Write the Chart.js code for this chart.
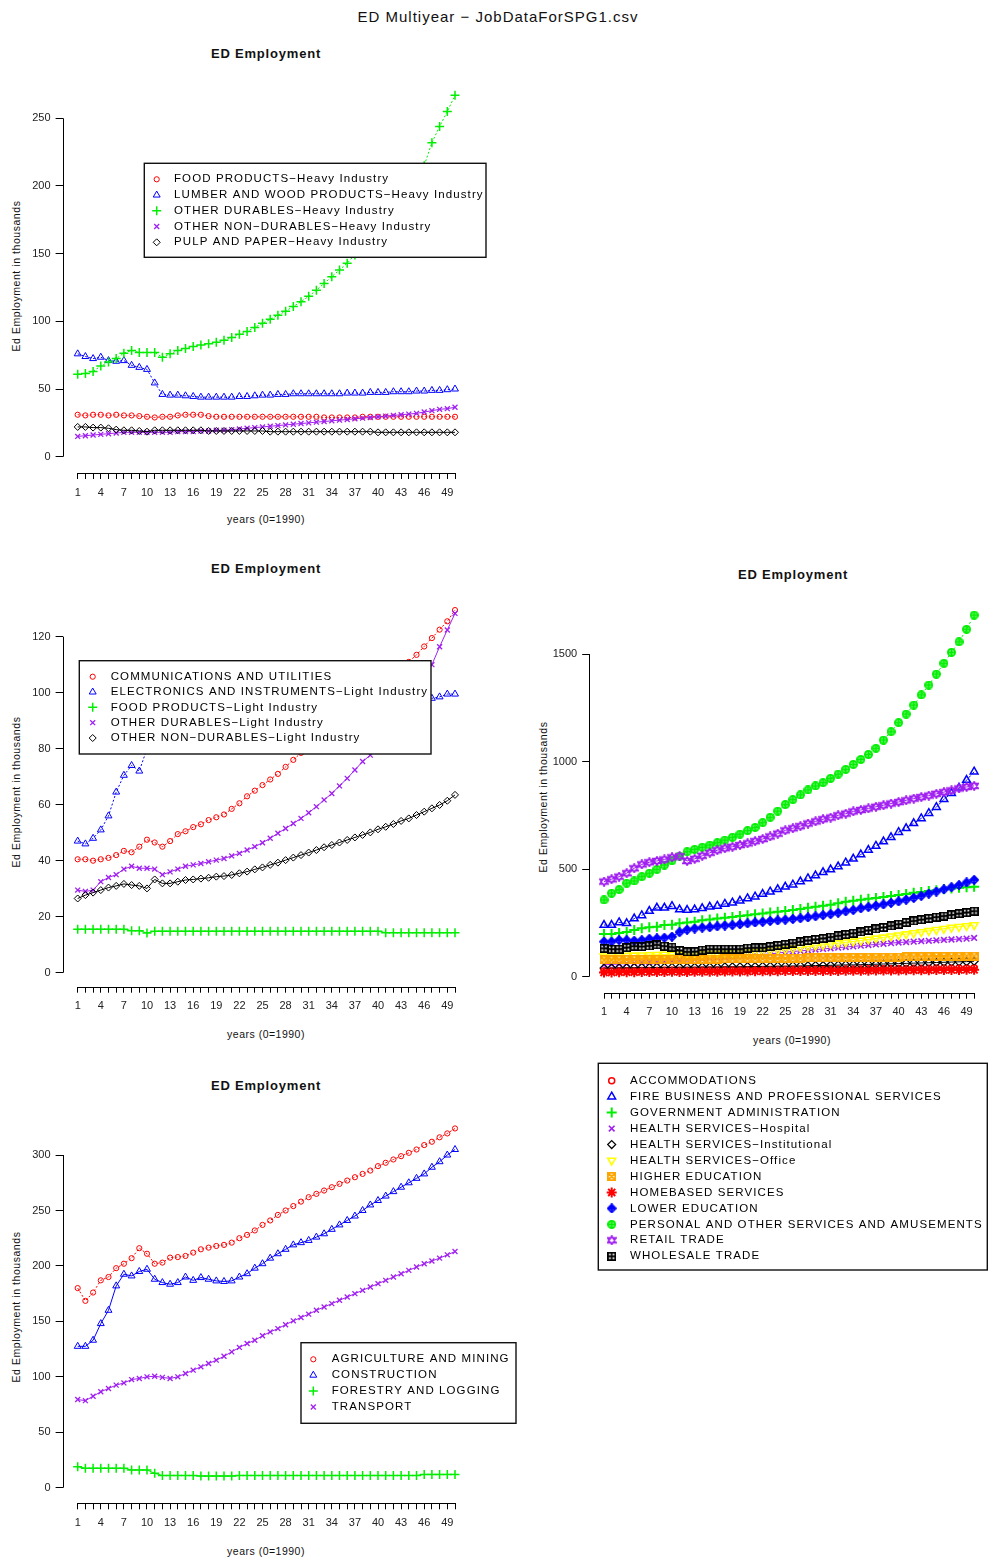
<!DOCTYPE html>
<html>
<head>
<meta charset="utf-8">
<script src="https://cdn.jsdelivr.net/npm/chart.js"></script>
<style>
  body { margin: 0; background: #fff; }
  #page { position: relative; width: 988px; height: 1558px; overflow: hidden; font-family: 'Liberation Sans', Arial, sans-serif; color: #111; }
  canvas { position: absolute; }
  .t { position: absolute; white-space: nowrap; transform: translate(-50%, -50%); line-height: 1; }
  .main { font-size: 15px; letter-spacing: 1px; }
  .ptitle { font-size: 13px; font-weight: bold; letter-spacing: 0.8px; }
  .xt { font-size: 10.5px; letter-spacing: 0.5px; }
  .yt { font-size: 10.5px; letter-spacing: 0.55px; transform: translate(-50%, -50%) rotate(-90deg); }
</style>
</head>
<body>
<div id="page">
  <div class="t main" style="left:498px;top:16px">ED Multiyear − JobDataForSPG1.csv</div>

  <div class="t ptitle" style="left:266px;top:53px">ED Employment</div>
  <div class="t yt" style="left:16px;top:276px">Ed Employment in thousands</div>
  <div class="t xt" style="left:266px;top:519px">years (0=1990)</div>
  <canvas id="c1" width="494" height="505" style="left:0;top:30px"></canvas>

  <div class="t ptitle" style="left:266px;top:568px">ED Employment</div>
  <div class="t yt" style="left:16px;top:792px">Ed Employment in thousands</div>
  <div class="t xt" style="left:266px;top:1034px">years (0=1990)</div>
  <canvas id="c2" width="494" height="505" style="left:0;top:545px"></canvas>

  <div class="t ptitle" style="left:793px;top:574px">ED Employment</div>
  <div class="t yt" style="left:543px;top:797px">Ed Employment in thousands</div>
  <div class="t xt" style="left:792px;top:1040px">years (0=1990)</div>
  <canvas id="c3" width="468" height="730" style="left:520px;top:555px"></canvas>

  <div class="t ptitle" style="left:266px;top:1085px">ED Employment</div>
  <div class="t yt" style="left:16px;top:1307px">Ed Employment in thousands</div>
  <div class="t xt" style="left:266px;top:1551px">years (0=1990)</div>
  <canvas id="c4" width="530" height="496" style="left:0;top:1062px"></canvas>
</div>

<script>
// x categories and tick labels
const years = [1,2,3,4,5,6,7,8,9,10,11,12,13,14,15,16,17,18,19,20,21,22,23,24,25,
  26,27,28,29,30,31,32,33,34,35,36,37,38,39,40,41,42,43,44,45,46,47,48,49,50];
const yearLabels = [1,4,7,10,13,16,19,22,25,28,31,34,37,40,43,46,49];

// panel 1: heavy industry
const p1Names = ['FOOD PRODUCTS−Heavy Industry', 'LUMBER AND WOOD PRODUCTS−Heavy Industry',
  'OTHER DURABLES−Heavy Industry', 'OTHER NON−DURABLES−Heavy Industry', 'PULP AND PAPER−Heavy Industry'];
const p1Food = [31,30.5,31,31,30.5,31,30.5,30.5,30,29.5, 29,29.5,29.5,30.5,31,31,31,30,29.5,29.5,
  29.5,29.5,29.5,29.5,29.5,29.5,29.5,29.5,29.5,29.5, 29.5,29.5,29,29,29,29,29,29.5,29.5,29.5,
  29.5,29.5,29.5,29.5,29.5,29.5,29.5,29.5,29.5,29.5];
const p1Lumber = [76,74,72.5,73.5,71,70.5,71,67.5,66,64.5, 54.5,46,45.5,45.5,45,44.5,44,44,44,44,
  44,44.5,44.5,45,45.5,45.5,46,46,46.5,46.5, 46.5,46.5,46.5,46.5,46.5,47,47,47,47.5,47.5,
  47.5,48,48,48,48.5,48.5,49,49,49.5,50];
const p1Durables = [61,61.5,63,67,70,72.5,76.5,78.5,77,77, 77,73.5,76,78.5,80,81.5,82.5,83.5,84.5,86,
  88,90.5,92.5,95.5,98.5,101.5,104.5,107.5,111,114.5, 118.5,123,128,133,138,143,149,155,161,168,
  175,182,190,198,206,215,232,244,255,267];
const p1NonDurables = [15,15.5,16,16.5,17,17.5,18,18,18,18, 18,18,18,18.5,18.5,18.5,19,19,19.5,19.5,
  20,20.5,21,21.5,22,22.5,23,23.5,24,24.5, 25,25.5,26,26.5,27,27.5,28,28.5,29,29.5,
  30,30.5,31,31.5,32,33,34,35,35.5,36.5];
const p1Pulp = [22,22,21.5,21.5,21,20,19.5,19.5,19,18.5, 19.5,19.5,19.5,19.5,19.5,19.5,19.5,19,19,19,
  19,19,19,19,19,18.5,18.5,18.5,18.5,18.5, 18.5,18.5,18.5,18.5,18.5,18.5,18.5,18.5,18.5,18,
  18,18,18,18,18,18,18,18,18,18];
const p1Ticks = [0,50,100,150,200,250];

// panel 2: light industry
const p2Names = ['COMMUNICATIONS AND UTILITIES', 'ELECTRONICS AND INSTRUMENTS−Light Industry',
  'FOOD PRODUCTS−Light Industry', 'OTHER DURABLES−Light Industry', 'OTHER NON−DURABLES−Light Industry'];
const p2Comm = [40.5,40.5,40,40.5,41,42,43.5,43,45,47.5, 46.5,45,47,49.5,50.5,52,53,54.5,55.5,56.5,
  58.5,60.5,63,65,67,69,71,73.5,76,78.5, 81,83.5,86,88.5,91,93.5,96,98.5,101,103,
  105,107,109,111,113.5,116.5,119.5,122.5,125.5,129.5];
const p2Electronics = [47,46,48,51,56,64.5,70.5,74,72,80, 82,81,83,84,85,86,87,88,88.5,89,
  90,90.5,91,91.5,92,92.5,93,93.5,94,94.5, 95,95.5,96,96,96.5,96.5,97,97,97,97.5,
  97.5,97.5,98,98,98,98,98,98.5,99.5,99.5];
const p2Food = [15.5,15.5,15.5,15.5,15.5,15.5,15.5,15,15,14.2, 14.8,14.8,14.8,14.8,14.8,14.8,14.8,14.8,14.8,14.8,
  14.8,14.8,14.8,14.8,14.8,14.8,14.8,14.8,14.8,14.8, 14.8,14.8,14.8,14.8,14.8,14.8,14.8,14.8,14.8,14.8,
  14.3,14.3,14.3,14.3,14.3,14.3,14.3,14.3,14.3,14.3];
const p2Durables = [29.5,29,29.5,32.5,34,35,37,38,37.3,37.3, 37,35,36,37,38,38.5,39,39.6,40.2,40.8,
  41.7,42.6,43.8,45,46.4,48,49.8,51.5,53.3,55.1, 57.1,59.3,61.7,64,66.7,69.4,72.4,75.4,77.7,80.5,
  84,87.5,91.5,96,100.5,105,110,116.4,122.4,128.3];
const p2NonDurables = [26.5,27.7,28.6,29.5,30.4,31,31.7,31.3,31,30.1, 33.3,31.9,31.9,32.5,33.1,33.3,33.6,33.9,34.3,34.5,
  34.9,35.5,36.1,36.9,37.6,38.5,39.3,40.2,41.1,42, 42.9,43.8,44.8,45.6,46.5,47.4,48.3,49.2,50.1,51.2,
  52.1,53.1,54.2,55.1,56.3,57.5,58.7,59.9,61.4,63.5];
const p2Ticks = [0,20,40,60,80,100,120];

// panel 3: services
const p3Names = ['ACCOMMODATIONS', 'FIRE BUSINESS AND PROFESSIONAL SERVICES', 'GOVERNMENT ADMINISTRATION',
  'HEALTH SERVICES−Hospital', 'HEALTH SERVICES−Institutional', 'HEALTH SERVICES−Office', 'HIGHER EDUCATION',
  'HOMEBASED SERVICES', 'LOWER EDUCATION', 'PERSONAL AND OTHER SERVICES AND AMUSEMENTS', 'RETAIL TRADE', 'WHOLESALE TRADE'];
const p3Accom = [27,27,28,28,28,29,29,29,30,30, 29,29,29,30,30,30,31,31,31,31,
  32,32,32,33,33,33,34,34,34,35, 35,35,36,36,36,37,37,37,38,38, 38,39,39,39,40,40,40,41,41,42];
const p3Fire = [240,240,252,248,270,285,305,320,320,328, 312,310,312,318,325,329,338,344,353,364,
  372,384,395,406,418,428,442,457,470,485, 498,512,530,548,568,589,608,628,648,672,
  690,713,736,760,788,825,853,878,914,953];
const p3Govt = [198,198,203,208,217,225,230,232,240,242, 248,252,256,262,266,270,274,278,282,286,
  290,294,298,302,306,310,315,320,325,330, 335,342,348,353,358,362,366,370,375,380,
  385,390,394,398,402,406,410,413,416,418];
const p3Hospital = [55,57,59,61,63,65,68,70,72,74, 76,78,80,83,86,89,92,95,97,99,
  101,103,106,110,114,117,120,123,126,129, 132,135,138,141,144,147,150,153,156,159,
  161,163,165,167,169,171,173,175,177,180];
const p3Institutional = [40,40,41,41,42,42,42,43,43,43, 44,44,44,45,45,45,46,46,46,47,
  47,48,48,49,49,50,50,51,52,52, 53,54,55,55,56,57,58,59,60,61, 62,63,64,65,66,67,68,69,70,72];
const p3Office = [95,96,97,98,99,100,101,102,103,104, 104,104,105,106,107,108,109,110,112,114,
  116,119,122,125,128,132,136,140,144,148, 152,156,160,164,168,173,178,183,188,193,
  198,203,208,213,218,223,228,232,236,240];
const p3Higher = [78,78,79,80,80,78,79,80,80,81, 82,80,80,80,82,82,83,83,83,84,
  84,84,85,85,85,86,86,87,87,87, 88,88,88,89,89,90,90,90,91,91, 92,92,93,93,94,94,95,95,96,96];
const p3Homebased = [20,20,21,21,21,22,22,22,22,23, 22,22,23,23,23,23,24,24,24,24,
  25,25,25,25,26,26,26,26,27,27, 27,27,28,28,28,28,29,29,29,29, 30,30,30,30,31,31,31,31,32,32];
const p3Lower = [163,163,170,170,167,170,176,178,181,186, 207,218,224,228,230,234,238,240,244,248,
  252,255,259,262,265,268,272,276,281,286, 291,297,304,310,318,324,330,336,343,350,
  358,366,376,386,396,406,416,426,438,450];
const p3Personal = [357,388,405,435,445,465,481,499,519,539, 561,581,592,602,612,623,635,648,663,679,
  694,716,741,770,800,823,845,868,887,902, 922,942,964,987,1010,1033,1062,1100,1139,1181,
  1221,1263,1310,1356,1407,1457,1508,1557,1615,1681];
const p3Retail = [442,453,465,481,504,522,532,538,545,555, 560,538,548,562,576,588,597,604,612,620,
  630,640,652,665,680,690,700,712,722,732, 740,750,758,768,775,782,790,797,805,812,
  820,828,835,842,850,858,866,875,882,887];
const p3Wholesale = [132,128,128,135,142,140,143,148,142,138, 122,115,116,124,128,128,128,128,128,133,
  134,134,140,145,150,156,162,168,173,178, 184,190,196,202,208,215,222,229,236,244,
  252,259,265,271,277,282,287,293,298,305];
const p3Ticks = [0,500,1000,1500];

// panel 4: primary, construction, transport
const p4Names = ['AGRICULTURE AND MINING', 'CONSTRUCTION', 'FORESTRY AND LOGGING', 'TRANSPORT'];
const p4Agri = [180,168.5,176,187,190,198,202,207,216,211, 202,203,207.5,208,209,212,215,216.5,218,219,
  221,225,228,232,237,241,246,250,254,258, 262,265,268,271,274,277,280,283,286,290,
  293,296,299,302,305,309,312,316,319.5,324];
const p4Constr = [127.5,127.5,133,148,160,182,192.5,191,195,197, 188,185,183.5,185,190,187,189.5,188,186.5,186,
  186.5,190,193,198,202,207,211,215,219,221, 223,226,229,233,237,241,245,250,255,259,
  263,267,271,275,279,283,289,294,300,305];
const p4Forest = [19,17.5,17.5,17.5,17.5,17.5,17.5,16,16,16, 13,11,11,11,11,11,10.5,10.5,10.5,10.5,
  10.5,11,11,11,11,11,11,11,11,11, 11,11,11,11,11,11,11,11,11,11, 11,11,11,11,11,12,12,12,12,12];
const p4Transport = [79.5,78.5,82.5,86.5,89.5,92.5,94.5,97.5,98.5,100, 100.5,99.5,98.5,100,103,106,109,112,115,118.5,
  122.5,126.5,130,133,137,140.5,143.5,147,150.5,153.5, 156.5,160,163,166,169,172,175,178,181,184,
  187,190,193,196,199,202,204.5,207,210,213];
const p4Ticks = [0,50,100,150,200,250,300];

const FONT = "'Liberation Sans', Arial, sans-serif";
const AXIS_W = 40, AXIS_H = 45;
const RED = '#ff0000', BLUE = '#0000ff', GREEN = '#00ee00', PURPLE = '#a020f0',
  BLACK = '#000000', YELLOW = '#ffff00', ORANGE = '#ffa500';

// small canvases for the composite R symbols
function marker(kind, color, size, lw) {
  const c = document.createElement('canvas');
  c.width = size; c.height = size;
  const g = c.getContext('2d');
  g.strokeStyle = color; g.lineWidth = lw;
  const m = lw / 2, e = size - lw / 2, h = size / 2;
  g.beginPath();
  if (kind === 'boxx') {
    g.rect(m, m, e - m, e - m);
    g.moveTo(m, m); g.lineTo(e, e); g.moveTo(e, m); g.lineTo(m, e);
  } else if (kind === 'squareplus') {
    g.rect(m, m, e - m, e - m);
    g.moveTo(h, m); g.lineTo(h, e); g.moveTo(m, h); g.lineTo(e, h);
  } else if (kind === 'diamondplus') {
    g.moveTo(h, m); g.lineTo(e, h); g.lineTo(h, e); g.lineTo(m, h); g.closePath();
    g.moveTo(h, m); g.lineTo(h, e); g.moveTo(m, h); g.lineTo(e, h);
  } else if (kind === 'circleplus') {
    g.arc(h, h, h - m, 0, Math.PI * 2);
    g.moveTo(h, m); g.lineTo(h, e); g.moveTo(m, h); g.lineTo(e, h);
  } else if (kind === 'david') {
    g.moveTo(h, m); g.lineTo(e, size * 0.75); g.lineTo(m, size * 0.75); g.closePath();
    g.moveTo(h, e); g.lineTo(e, size * 0.25); g.lineTo(m, size * 0.25); g.closePath();
  }
  g.stroke();
  return c;
}

// R style axes (lines only over the tick range) and the boxed legend
const rStyle = {
  id: 'rStyle',
  afterDraw(chart, args, o) {
    const ctx = chart.ctx, a = chart.chartArea;
    const xs = chart.scales.x, ys = chart.scales.y;
    ctx.save();
    ctx.strokeStyle = '#000';
    ctx.lineWidth = 1;
    ctx.beginPath();
    const lx = Math.round(a.left) + 0.5, by = Math.round(a.bottom) + 0.5;
    ctx.moveTo(lx, ys.getPixelForValue(o.yTicks[0]));
    ctx.lineTo(lx, ys.getPixelForValue(o.yTicks[o.yTicks.length - 1]));
    ctx.moveTo(xs.getPixelForValue(years[0]), by);
    ctx.lineTo(xs.getPixelForValue(years[years.length - 1]), by);
    ctx.stroke();

    const L = o.legend;
    ctx.fillStyle = '#fff';
    ctx.fillRect(L.x, L.y, L.w, L.h);
    ctx.lineWidth = 1.4;
    ctx.strokeStyle = '#111';
    ctx.strokeRect(L.x, L.y, L.w, L.h);
    chart.data.datasets.forEach((d, i) => {
      const y = L.row0 + i * L.dy;
      ctx.strokeStyle = d.pointBorderColor;
      ctx.fillStyle = 'rgba(0,0,0,0)';
      ctx.lineWidth = d.pointBorderWidth;
      ctx.setLineDash([]);
      Chart.helpers.drawPoint(ctx, {
        pointStyle: d.pointStyle, rotation: d.pointRotation, radius: d.pointRadius, borderWidth: d.pointBorderWidth
      }, L.sx, y);
      ctx.fillStyle = '#000';
      ctx.font = '11.5px ' + FONT;
      ctx.letterSpacing = '1.1px';
      ctx.textBaseline = 'middle';
      ctx.textAlign = 'left';
      ctx.fillText(d.label, L.tx, y);
    });
    ctx.restore();
  }
};

function makePanel(id, box, area, range, yTicks, series, legend) {
  const n = series.length;
  const datasets = series.map((s, i) => ({
    label: s.label,
    data: s.data.map((v, k) => ({ x: years[k], y: v })),
    order: n - i,
    borderColor: s.color,
    backgroundColor: 'rgba(0,0,0,0)',
    borderWidth: s.lw || 1,
    borderDash: s.dash || [],
    pointStyle: s.style,
    pointRotation: s.rot || 0,
    pointRadius: s.r || 3,
    pointBorderWidth: s.bw || 1,
    pointBorderColor: s.color,
    pointBackgroundColor: 'rgba(0,0,0,0)',
    tension: 0,
    clip: false
  }));
  const leg = {
    x: legend.x - box.l, y: legend.y - box.t, w: legend.w, h: legend.h,
    sx: legend.sx - box.l, tx: legend.tx - box.l, row0: legend.row0 - box.t, dy: legend.dy
  };
  return new Chart(document.getElementById(id), {
    type: 'line',
    data: { datasets },
    plugins: [rStyle],
    options: {
      responsive: false,
      animation: false,
      devicePixelRatio: 1,
      events: [],
      layout: {
        padding: {
          left: area.l - box.l - AXIS_W,
          top: area.t - box.t,
          right: box.l + box.w - area.r,
          bottom: box.t + box.h - area.b - AXIS_H
        }
      },
      plugins: {
        legend: { display: false },
        tooltip: { enabled: false },
        rStyle: { legend: leg, yTicks }
      },
      scales: {
        x: {
          type: 'linear', min: range.x0, max: range.x1,
          border: { display: false },
          grid: { drawOnChartArea: false, tickLength: 6, color: '#000', lineWidth: 1 },
          ticks: {
            autoSkip: false, maxRotation: 0, minRotation: 0, padding: 7, color: '#222',
            font: { family: FONT, size: 11 },
            callback: v => yearLabels.includes(v) ? String(v) : ''
          },
          afterBuildTicks: s => { s.ticks = years.map(v => ({ value: v })); },
          afterFit: s => { s.height = AXIS_H; }
        },
        y: {
          type: 'linear', min: range.y0, max: range.y1,
          border: { display: false },
          grid: { drawOnChartArea: false, tickLength: 7, color: '#000', lineWidth: 1 },
          ticks: { padding: 5, color: '#222', font: { family: FONT, size: 11 }, callback: v => String(v) },
          afterBuildTicks: s => { s.ticks = yTicks.map(v => ({ value: v })); },
          afterFit: s => { s.width = AXIS_W; }
        }
      }
    }
  });
}

// symbol set shared by the 4-5 series panels (R pch 1..5)
const baseStyles = [
  { style: 'circle', r: 2.6, bw: 1 },
  { style: 'triangle', r: 4, bw: 1 },
  { style: 'cross', r: 4.5, bw: 1.5 },
  { style: 'crossRot', r: 3.5, bw: 1.3 },
  { style: 'rectRot', r: 3.5, bw: 1 }
];
const baseColors = [RED, BLUE, GREEN, PURPLE, BLACK];

function simpleSeries(names, values, dashes) {
  return names.map((nm, i) => Object.assign({ label: nm, data: values[i], color: baseColors[i], dash: dashes[i] }, baseStyles[i]));
}

makePanel('c1',
  { l: 0, t: 30, w: 494, h: 505 },
  { l: 62.6, r: 470.1, t: 80.4, b: 473 },
  { x0: -0.96, x1: 51.96, y0: -12.04, y1: 278 },
  p1Ticks,
  simpleSeries(p1Names, [p1Food, p1Lumber, p1Durables, p1NonDurables, p1Pulp], [[2, 2], [2, 2], [2, 2], [], []]),
  { x: 144.3, y: 163.3, w: 341.7, h: 94, sx: 156.7, tx: 174, row0: 179.3, dy: 15.75 });

makePanel('c2',
  { l: 0, t: 545, w: 494, h: 505 },
  { l: 62.6, r: 470.1, t: 595.5, b: 986.7 },
  { x0: -0.96, x1: 51.96, y0: -5, y1: 134.7 },
  p2Ticks,
  simpleSeries(p2Names, [p2Comm, p2Electronics, p2Food, p2Durables, p2NonDurables], [[2, 2], [2, 2], [], [], []]),
  { x: 79.3, y: 660.7, w: 351.7, h: 93.3, sx: 92.7, tx: 110.7, row0: 676.7, dy: 15.33 });

const p3Series = [
  { label: p3Names[0], data: p3Accom, color: RED, style: 'circle', r: 3, bw: 1.5 },
  { label: p3Names[1], data: p3Fire, color: BLUE, style: 'triangle', r: 4.5, bw: 1.5, dash: [3, 2] },
  { label: p3Names[2], data: p3Govt, color: GREEN, style: 'cross', r: 5, bw: 2 },
  { label: p3Names[3], data: p3Hospital, color: PURPLE, style: 'crossRot', r: 4, bw: 1.6 },
  { label: p3Names[4], data: p3Institutional, color: BLACK, style: 'rectRot', r: 4, bw: 1.2 },
  { label: p3Names[5], data: p3Office, color: YELLOW, style: 'triangle', rot: 180, r: 4.5, bw: 1.6 },
  { label: p3Names[6], data: p3Higher, color: ORANGE, style: marker('boxx', ORANGE, 9, 1.8), r: 4 },
  { label: p3Names[7], data: p3Homebased, color: RED, style: 'star', r: 5, bw: 2 },
  { label: p3Names[8], data: p3Lower, color: BLUE, style: marker('diamondplus', BLUE, 10, 1.8), r: 5 },
  { label: p3Names[9], data: p3Personal, color: GREEN, style: marker('circleplus', GREEN, 9, 2), r: 4.5, dash: [2, 3] },
  { label: p3Names[10], data: p3Retail, color: PURPLE, style: marker('david', PURPLE, 10, 1.5), r: 5 },
  { label: p3Names[11], data: p3Wholesale, color: BLACK, style: marker('squareplus', BLACK, 9, 1.8), r: 4.5 }
];
makePanel('c3',
  { l: 520, t: 555, w: 468, h: 730 },
  { l: 589.2, r: 988, t: 600.7, b: 992.7 },
  { x0: -0.96, x1: 50.91, y0: -74.4, y1: 1748 },
  p3Ticks,
  p3Series,
  { x: 598.3, y: 1063.3, w: 389, h: 206.7, sx: 611.7, tx: 630, row0: 1080.7, dy: 15.96 });

makePanel('c4',
  { l: 0, t: 1062, w: 530, h: 496 },
  { l: 62.6, r: 470.1, t: 1112.8, b: 1503.3 },
  { x0: -0.96, x1: 51.96, y0: -14.07, y1: 338.1 },
  p4Ticks,
  simpleSeries(p4Names, [p4Agri, p4Constr, p4Forest, p4Transport], [[2, 2], [], [], []]),
  { x: 301, y: 1342.7, w: 215, h: 80.6, sx: 313.3, tx: 331.7, row0: 1359.3, dy: 15.9 });
</script>
</body>
</html>
